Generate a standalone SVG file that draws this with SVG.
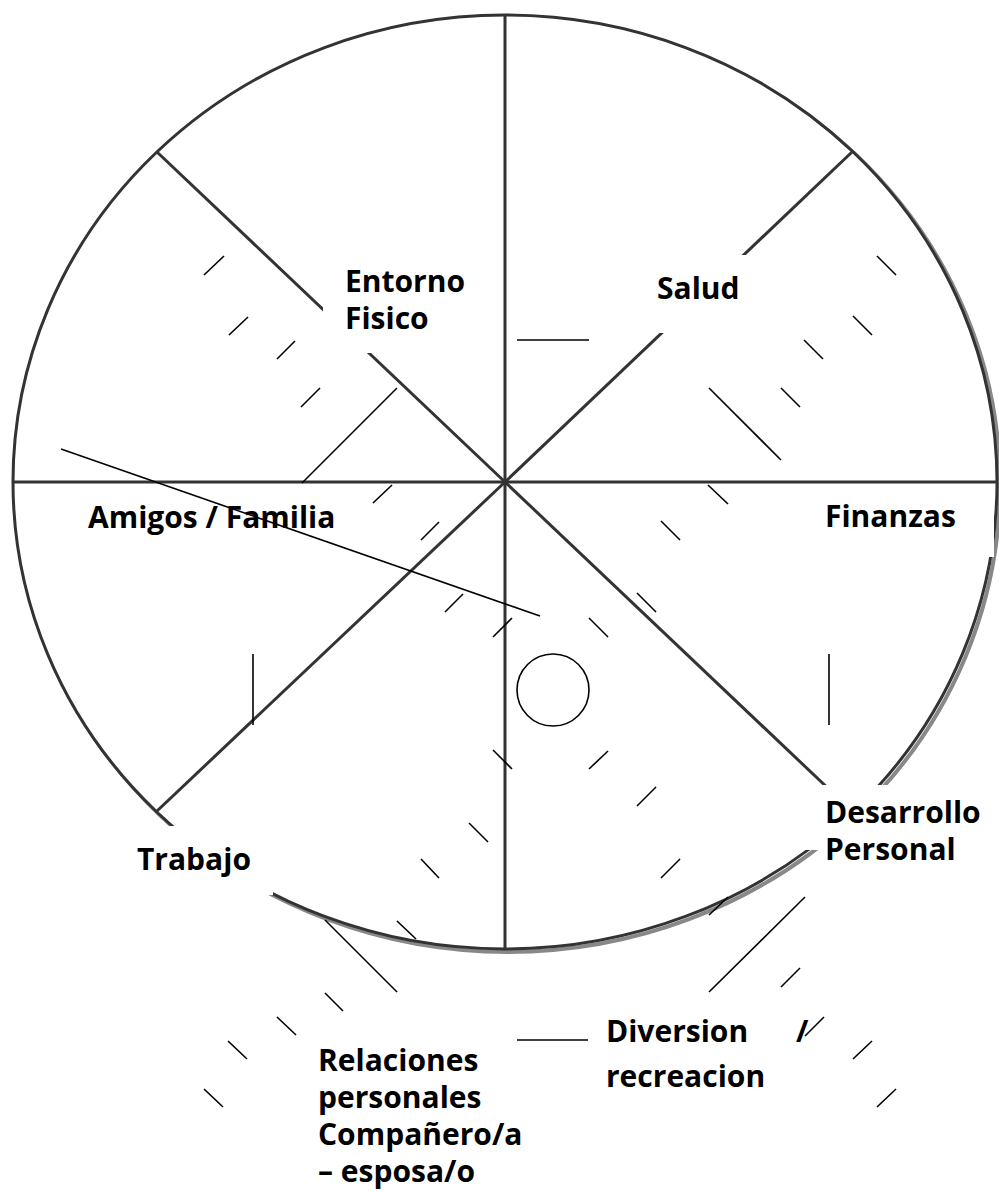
<svg xmlns="http://www.w3.org/2000/svg" width="999" height="1191" viewBox="0 0 999 1191">
<style>
.sp{stroke:#333;stroke-width:3;fill:none}
.tk{stroke:#000;stroke-width:1.6;fill:none}
.bx{fill:#fff;stroke:none}
.lb{font-family:"Open Sans","Liberation Sans",sans-serif;font-weight:bold;font-size:30px;fill:#000}
</style>
<rect width="999" height="1191" fill="#fff"/>
<g id="wheel">
<ellipse cx="508" cy="485" rx="492" ry="467" fill="none" stroke="#888" stroke-width="4"/>
<ellipse cx="505" cy="482" rx="492" ry="467" fill="#fff" stroke="#333" stroke-width="3"/>
</g>
<g id="connectors">
<line class="sp" x1="505" y1="15" x2="505" y2="949"/>
<line class="sp" x1="13" y1="482" x2="997" y2="482"/>
<line class="sp" x1="505" y1="482" x2="157" y2="152"/>
<line class="sp" x1="505" y1="482" x2="852" y2="152"/>
<line class="sp" x1="505" y1="482" x2="157" y2="811"/>
<line class="sp" x1="505" y1="482" x2="852" y2="811"/>
</g>
<g id="label-entorno"><rect class="bx" x="323" y="262" width="157" height="91"/>
<text class="lb" x="345" y="292">Entorno</text><text class="lb" x="345" y="329">Fisico</text></g>
<g id="label-salud"><rect class="bx" x="620" y="255" width="150" height="78"/>
<text class="lb" x="657" y="299">Salud</text></g>
<g id="label-amigos"><rect class="bx" x="60" y="484" width="313" height="64"/>
<text class="lb" x="88" y="528">Amigos / Familia</text></g>
<g id="label-finanzas"><rect class="bx" x="803" y="484" width="191" height="73"/>
<text class="lb" x="825" y="527">Finanzas</text></g>
<g id="label-desarrollo"><rect class="bx" x="805" y="785" width="185" height="65"/>
<text class="lb" x="825" y="823">Desarrollo</text><text class="lb" x="825" y="860">Personal</text></g>
<g id="label-trabajo"><rect class="bx" x="110" y="826" width="163" height="69"/>
<text class="lb" x="137" y="870">Trabajo</text></g>
<g id="label-diversion">
<text class="lb" x="606" y="1042">Diversion</text><text class="lb" x="796" y="1042">/</text><text class="lb" x="606" y="1087">recreacion</text></g>
<g id="label-relaciones">
<text class="lb" x="318" y="1071">Relaciones</text><text class="lb" x="318" y="1108">personales</text><text class="lb" x="318" y="1145">Compañero/a</text><text class="lb" x="318" y="1182">– esposa/o</text></g>
<g id="ticks">
<line class="tk" x1="204" y1="275" x2="224" y2="256"/>
<line class="tk" x1="229" y1="335" x2="248" y2="317"/>
<line class="tk" x1="277" y1="359" x2="295" y2="341"/>
<line class="tk" x1="301" y1="407" x2="320" y2="388"/>
<line class="tk" x1="302" y1="483" x2="397" y2="388"/>
<line class="tk" x1="373" y1="503" x2="392" y2="485"/>
<line class="tk" x1="421" y1="540" x2="439" y2="522"/>
<line class="tk" x1="445" y1="612" x2="463" y2="594"/>
<line class="tk" x1="493" y1="637" x2="512" y2="618"/>
<line class="tk" x1="253" y1="654" x2="253" y2="725"/>
<line class="tk" x1="61" y1="449" x2="540" y2="616"/>
<line class="tk" x1="517" y1="340" x2="589" y2="340"/>
<line class="tk" x1="877" y1="256" x2="896" y2="275"/>
<line class="tk" x1="853" y1="316" x2="872" y2="335"/>
<line class="tk" x1="804" y1="340" x2="823" y2="359"/>
<line class="tk" x1="781" y1="388" x2="800" y2="407"/>
<line class="tk" x1="709" y1="388" x2="781" y2="460"/>
<line class="tk" x1="708" y1="485" x2="728" y2="504"/>
<line class="tk" x1="661" y1="521" x2="680" y2="540"/>
<line class="tk" x1="637" y1="593" x2="656" y2="612"/>
<line class="tk" x1="589" y1="618" x2="608" y2="637"/>
<line class="tk" x1="829" y1="654" x2="829" y2="725"/>
<circle class="tk" cx="553" cy="690" r="36"/>
<line class="tk" x1="493" y1="750" x2="512" y2="769"/>
<line class="tk" x1="589" y1="769" x2="608" y2="751"/>
<line class="tk" x1="637" y1="806" x2="656" y2="787"/>
<line class="tk" x1="469" y1="823" x2="488" y2="842"/>
<line class="tk" x1="661" y1="878" x2="680" y2="859"/>
<line class="tk" x1="421" y1="859" x2="439" y2="878"/>
<line class="tk" x1="709" y1="915" x2="728" y2="897"/>
<line class="tk" x1="397" y1="921" x2="416" y2="939"/>
<line class="tk" x1="709" y1="992" x2="805" y2="897"/>
<line class="tk" x1="325" y1="920" x2="397" y2="992"/>
<line class="tk" x1="781" y1="987" x2="800" y2="968"/>
<line class="tk" x1="325" y1="993" x2="343" y2="1011"/>
<line class="tk" x1="805" y1="1036" x2="824" y2="1017"/>
<line class="tk" x1="277" y1="1017" x2="296" y2="1035"/>
<line class="tk" x1="517" y1="1040" x2="588" y2="1040"/>
<line class="tk" x1="853" y1="1059" x2="872" y2="1041"/>
<line class="tk" x1="228" y1="1041" x2="247" y2="1059"/>
<line class="tk" x1="204" y1="1089" x2="223" y2="1107"/>
<line class="tk" x1="877" y1="1107" x2="896" y2="1089"/>
</g>
</svg>
